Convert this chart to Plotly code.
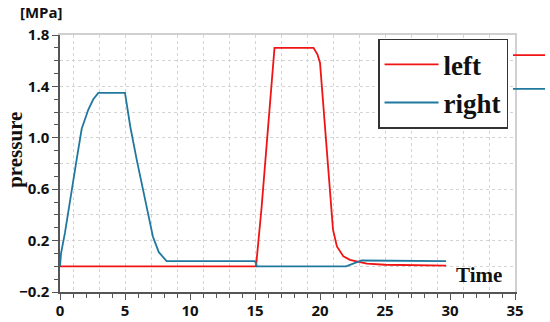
import plotly.graph_objects as go

# ---- data ----
left_t = [0, 15.08, 15.5, 16.0, 16.5, 19.5, 19.8, 20.0, 20.5, 21.0, 21.3, 21.8, 22.3, 22.8, 23.6, 25.0, 29.7]
left_p = [0, 0, 0.45, 1.08, 1.70, 1.70, 1.65, 1.585, 0.935, 0.285, 0.155, 0.077, 0.05, 0.04, 0.02, 0.012, 0.006]

right_t = [0, 0.08, 0.38, 0.9, 1.28, 1.67, 2.18, 2.56, 2.95, 5.0, 5.4, 5.9, 6.4, 6.9, 7.15, 7.6, 8.2, 15.0, 15.15, 22.0, 22.6, 23.2, 29.7]
right_p = [0, 0.1, 0.26, 0.57, 0.83, 1.07, 1.22, 1.30, 1.35, 1.35, 1.09, 0.83, 0.58, 0.33, 0.23, 0.11, 0.04, 0.04, 0.0, 0.0, 0.02, 0.045, 0.04]

series_names = ["left", "right"]
series_colors = ["#f01414", "#21789e"]

x_ticks = [0, 5, 10, 15, 20, 25, 30, 35]
y_ticks = [-0.2, 0.2, 0.6, 1.0, 1.4, 1.8]

tick_font = dict(family="Open Sans", size=15, color="#111", weight="bold")
serif_bold = dict(family="Liberation Serif", color="#111", weight="bold")

fig = go.Figure()
fig.add_trace(go.Scatter(x=left_t, y=left_p, mode="lines", name=series_names[0],
                         line=dict(color=series_colors[0], width=1.8)))
fig.add_trace(go.Scatter(x=right_t, y=right_p, mode="lines", name=series_names[1],
                         line=dict(color=series_colors[1], width=1.8)))
# empty trace so the overlay (grid / frame) axes get drawn
fig.add_trace(go.Scatter(x=[], y=[], xaxis="x2", yaxis="y2", showlegend=False,
                         hoverinfo="skip"))

fig.update_layout(
    template="none",
    width=550, height=322,
    margin=dict(l=60, r=35, t=35, b=30),
    paper_bgcolor="white", plot_bgcolor="white",
    showlegend=True,
    legend=dict(x=0.699, y=0.985, xanchor="left", yanchor="top",
                bgcolor="white", bordercolor="#333", borderwidth=1.5,
                font=dict(size=27, **serif_bold), itemwidth=54,
                tracegroupgap=0),
    xaxis=dict(range=[0, 35], tickvals=x_ticks, ticks="outside", ticklen=6,
               tickcolor="#555", tickwidth=1.3, automargin=False,
               ticklabelstandoff=-2,
               showline=True, linecolor="#555", linewidth=1.5,
               showgrid=False, zeroline=False, tickfont=tick_font,
               minor=dict(dtick=1, ticks="outside", ticklen=4, tickcolor="#555", showgrid=False)),
    yaxis=dict(range=[-0.2, 1.8], tickvals=y_ticks, tickformat=".1f",
               ticks="outside", ticklen=6,
               tickcolor="#555", tickwidth=1.3, automargin=False,
               showline=True, linecolor="#555", linewidth=1.5,
               showgrid=False, zeroline=False, tickfont=tick_font,
               minor=dict(dtick=0.1, tick0=0, ticks="outside", ticklen=4, tickcolor="#555", showgrid=False)),
    xaxis2=dict(range=[0, 35], overlaying="x", side="top", anchor="y2",
                tick0=1, dtick=2, showticklabels=False, ticks="", automargin=False,
                showgrid=True, gridcolor="#d4d4d4", griddash="dot", gridwidth=1,
                showline=True, linecolor="#d0d0d0", linewidth=1.5, zeroline=False),
    yaxis2=dict(range=[-0.2, 1.8], overlaying="y", side="right", anchor="x2",
                tick0=0, dtick=0.2, showticklabels=False, ticks="", automargin=False,
                showgrid=True, gridcolor="#d4d4d4", griddash="dot", gridwidth=1,
                showline=True, linecolor="#d0d0d0", linewidth=1.5, zeroline=False),
)

fig.add_annotation(text="[MPa]", xref="paper", yref="paper", x=-0.04, y=1.09,
                   xanchor="center", yanchor="middle", showarrow=False,
                   font=dict(family="Open Sans", size=15, color="#111", weight="bold"))
fig.add_annotation(text="pressure", xref="paper", yref="paper", x=-0.099, y=0.553,
                   textangle=-90, xanchor="center", yanchor="middle", showarrow=False,
                   font=dict(size=21, **serif_bold))
fig.add_annotation(text="Time", xref="paper", yref="paper", x=0.921, y=0.066,
                   xanchor="center", yanchor="middle", showarrow=False,
                   font=dict(size=21, **serif_bold))

# stray legend line stubs to the right of the legend box
fig.add_shape(type="line", xref="paper", yref="paper", x0=0.9956, x1=1.066, y0=0.922, y1=0.922,
              line=dict(color=series_colors[0], width=1.8))
fig.add_shape(type="line", xref="paper", yref="paper", x0=0.9956, x1=1.066, y0=0.79, y1=0.79,
              line=dict(color=series_colors[1], width=1.8))

# remove the default 8px page margin so the figure fills the window exactly
fig.write_html("out.html", config={"displayModeBar": False},
               post_script="document.body.style.margin='0px';")
